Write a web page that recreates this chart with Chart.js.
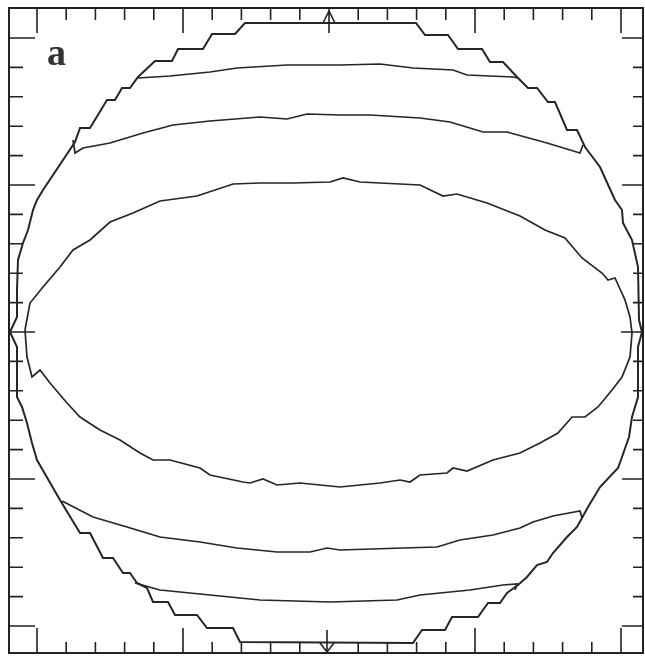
<!DOCTYPE html>
<html>
<head>
<meta charset="utf-8">
<script src="https://cdn.jsdelivr.net/npm/chart.js@4"></script>
<style>
  html, body { margin: 0; padding: 0; background: #fff; }
  canvas { display: block; }
</style>
</head>
<body>
<canvas id="fig" width="645" height="658"></canvas>
<script>
// outer stepped boundary (offsets from the centre mark)
const outlineX = [-319, -312, -312, -311, -306, -301, -296, -292, -286, -254, -249, -239, -222, -214, -207, -199, -191, -174, -157, -151, -126, -117, -94, -84,
  87, 96, 119, 129, 153, 161, 174, 189, 199, 208, 219, 226, 238, 248, 256, 271, 286, 293, 294, 303, 309, 310, 313,
  309, 309, 303, 300, 293, 289, 271, 259, 253, 248, 238, 224, 218, 208, 198, 189, 178, 171, 159, 149, 123, 116, 93, 84,
  -89, -96, -122, -132, -154, -161, -176, -182, -192, -199, -206, -216, -226, -239, -249, -269, -292, -297, -302, -307, -312, -312, -319];
const outlineY = [0, 15, 42, 72, 89, 102, 122, 132, 142, 190, 204, 204, 232, 232, 244, 244, 255, 271, 271, 283, 283, 298, 298, 309,
  309, 297, 297, 283, 283, 270, 270, 254, 244, 244, 230, 230, 202, 202, 185, 165, 132, 122, 109, 92, 65, 12, 0,
  -15, -65, -85, -105, -125, -136, -155, -175, -186, -195, -205, -221, -230, -233, -245, -253, -261, -271, -271, -285, -285, -298, -298, -311,
  -310, -296, -296, -283, -283, -270, -270, -256, -251, -241, -241, -226, -226, -201, -201, -168, -128, -111, -91, -75, -65, -15, 0];

// inner closed contour
const ellipseX = [-304, -299, -286, -269, -256, -239, -219, -196, -169, -132, -96, -69, -36, 1, 14, 31, 91, 114, 128, 158, 191, 216, 236, 253, 273, 279, 286, 296, 301, 303,
  301, 293, 283, 269, 256, 243, 229, 211, 191, 164, 138, 124, 118, 91, 81, 71, 51, 11, -29, -52, -66, -79, -86, -119, -129, -159, -176, -189, -209, -229, -249, -262, -279, -289, -297, -302, -304];
const ellipseY = [2, 29, 45, 65, 82, 92, 110, 119, 131, 136, 148, 149, 149, 150, 154, 150, 147, 136, 138, 129, 116, 102, 94, 74, 59, 52, 54, 32, 15, -1,
  -25, -45, -58, -75, -85, -85, -101, -111, -121, -128, -139, -136, -141, -143, -150, -148, -151, -155, -151, -153, -147, -151, -150, -143, -136, -128, -128, -121, -108, -98, -85, -71, -51, -38, -45, -25, 2];

// band edges, upper half
const upperOuterX = [-191, -159, -119, -92, -42, 11, 51, 84, 124, 138, 184, 189];
const upperOuterY = [254, 256, 260, 264, 267, 267, 268, 264, 262, 257, 255, 254];
const upperInnerX = [-256, -254, -246, -219, -186, -156, -119, -69, -42, -22, 11, 41, 91, 121, 154, 178, 218, 251, 254];
const upperInnerY = [192, 179, 184, 189, 199, 207, 211, 215, 213, 218, 217, 217, 214, 210, 200, 200, 189, 179, 187];

// band edges, lower half
const lowerInnerX = [-267, -236, -202, -169, -129, -92, -52, -19, -2, 11, 74, 108, 131, 164, 191, 204, 224, 251, 253];
const lowerInnerY = [-169, -185, -195, -205, -210, -216, -220, -220, -216, -218, -216, -215, -208, -203, -196, -190, -184, -179, -186];
const lowerOuterX = [-194, -169, -119, -69, 1, 68, 91, 141, 174, 188, 186];
const lowerOuterY = [-251, -258, -263, -268, -270, -268, -263, -258, -253, -252, -258];

const xStep = 29.2;
const yStep = 29.4;
const tickCount = 10;
const panelLabel = "a";

const toPoints = (xs, ys) => xs.map((x, i) => ({ x: x, y: ys[i] }));

function curve(xs, ys, width) {
  return {
    data: toPoints(xs, ys),
    showLine: true,
    borderColor: "#262626",
    borderWidth: width,
    pointRadius: 0,
    tension: 0,
    fill: false
  };
}

const framePlugin = {
  id: "frame",
  afterDatasetsDraw(chart) {
    const { ctx, chartArea: a, scales } = chart;
    const xs = scales.x, ys = scales.y;
    ctx.save();
    ctx.strokeStyle = "#222";
    ctx.lineWidth = 2;
    ctx.strokeRect(a.left, a.top, a.right - a.left, a.bottom - a.top);

    ctx.lineWidth = 1.6;
    ctx.beginPath();
    for (let k = -tickCount; k <= tickCount; k++) {
      if (k === 0) continue;
      const major = k % 5 === 0;
      const px = xs.getPixelForValue(k * xStep);
      const tl = major ? 25 : 12;
      ctx.moveTo(px, a.top); ctx.lineTo(px, a.top + tl);
      ctx.moveTo(px, a.bottom); ctx.lineTo(px, a.bottom - (major ? 25 : 11));
      const py = ys.getPixelForValue(k * yStep);
      ctx.moveTo(a.left, py); ctx.lineTo(a.left + (major ? 26 : 14), py);
      ctx.moveTo(a.right, py); ctx.lineTo(a.right - (major ? 21 : 10), py);
    }
    // centre marks
    const cx = xs.getPixelForValue(0);
    const cy = ys.getPixelForValue(0);
    ctx.moveTo(cx, a.top); ctx.lineTo(cx, a.top + 25);
    ctx.moveTo(cx - 6, a.top + 15); ctx.lineTo(cx, a.top + 3); ctx.lineTo(cx + 6, a.top + 15);
    ctx.moveTo(cx - 2, a.bottom - 23); ctx.lineTo(cx - 2, a.bottom);
    ctx.moveTo(cx - 9, a.bottom - 10); ctx.lineTo(cx - 2, a.bottom - 1); ctx.lineTo(cx + 5, a.bottom - 10);
    ctx.moveTo(a.left, cy); ctx.lineTo(a.left + 26, cy);
    ctx.moveTo(a.right, cy); ctx.lineTo(a.right - 22, cy);
    ctx.stroke();

    ctx.fillStyle = "#333";
    ctx.font = "bold 38px 'Liberation Serif', 'DejaVu Serif', serif";
    ctx.textBaseline = "alphabetic";
    ctx.fillText(panelLabel, a.left + 38, a.top + 57);
    ctx.restore();
  }
};

new Chart(document.getElementById("fig"), {
  type: "scatter",
  data: {
    datasets: [
      curve(outlineX, outlineY, 2),
      curve(ellipseX, ellipseY, 1.7),
      curve(upperOuterX, upperOuterY, 1.7),
      curve(upperInnerX, upperInnerY, 1.7),
      curve(lowerInnerX, lowerInnerY, 1.7),
      curve(lowerOuterX, lowerOuterY, 1.7)
    ]
  },
  options: {
    responsive: false,
    animation: false,
    layout: { padding: { left: 9, top: 8, right: 2, bottom: 5 } },
    plugins: {
      legend: { display: false },
      tooltip: { enabled: false }
    },
    scales: {
      x: { type: "linear", min: -320, max: 314, display: false },
      y: { type: "linear", min: -321, max: 324, display: false }
    }
  },
  plugins: [framePlugin]
});
</script>
</body>
</html>
